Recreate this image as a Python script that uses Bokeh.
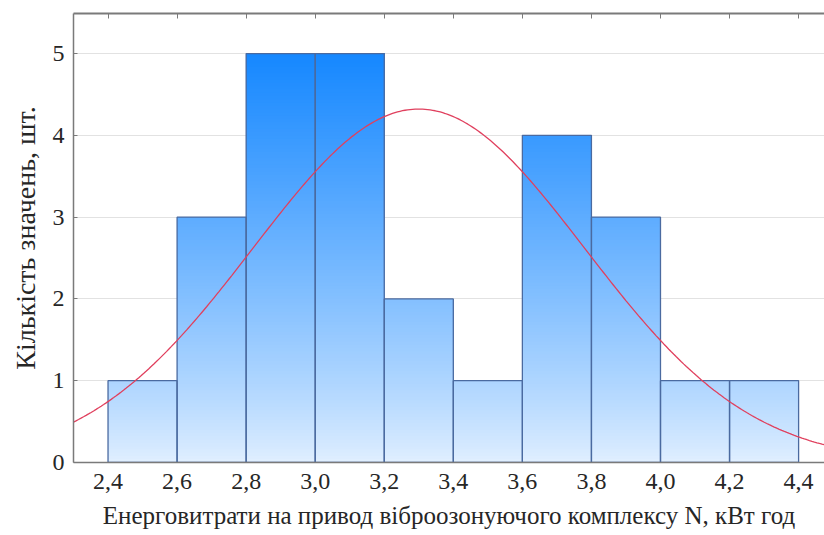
import numpy as np
from bokeh.plotting import figure
from bokeh.models import FixedTicker, LinearAxis, Range1d
from bokeh.embed import file_html
from bokeh.resources import INLINE

# ---- data ----
bin_left = [2.4, 2.6, 2.8, 3.0, 3.2, 3.4, 3.6, 3.8, 4.0, 4.2]
bin_right = [2.6, 2.8, 3.0, 3.2, 3.4, 3.6, 3.8, 4.0, 4.2, 4.4]
counts = [1, 3, 5, 5, 2, 1, 4, 3, 1, 1]
x_ticks = [2.4, 2.6, 2.8, 3.0, 3.2, 3.4, 3.6, 3.8, 4.0, 4.2, 4.4]
x_tick_labels = ["2,4", "2,6", "2,8", "3,0", "3,2", "3,4", "3,6", "3,8", "4,0", "4,2", "4,4"]
y_ticks = [0, 1, 2, 3, 4, 5]
fit_mean = 3.30
fit_sd = 0.48
bin_width = 0.2
x_title = "Енерговитрати на привод віброозонуючого комплексу N, кВт год"
y_title = "Кількість значень, шт."

FONT = "Liberation Serif"
X0, X1, Y0, Y1 = 2.3, 4.475, 0, 5.49

p = figure(width=824, height=535, output_backend="svg", toolbar_location=None,
           x_range=Range1d(X0, X1), y_range=Range1d(Y0, Y1),
           min_border_left=73, min_border_right=0, min_border_top=13, min_border_bottom=73,
           x_axis_label=x_title, y_axis_label=y_title)
p.outline_line_color = None
p.background_fill_color = "white"
p.border_fill_color = "white"

# grid
p.xgrid.grid_line_color = None
p.ygrid.ticker = FixedTicker(ticks=[1, 2, 3, 4, 5])
p.ygrid.grid_line_color = "#e2e2e2"
p.ygrid.grid_line_width = 1

# gradient bars (layered slices, colour depends on height)
top_c = np.array([22, 136, 255])
bot_c = np.array([226, 240, 255])
steps = 25
ymax_col = 5.0
L, R, B, T, C = [], [], [], [], []
for l, r, c in zip(bin_left, bin_right, counts):
    n = int(round(c * steps))
    for k in range(n):
        y0 = k / steps
        t = min(1.0, (y0 + 0.5 / steps) / ymax_col)
        t = t ** 0.85
        col = bot_c + (top_c - bot_c) * t
        L.append(l); R.append(r); B.append(y0); T.append(c)
        C.append("#%02x%02x%02x" % tuple(int(v) for v in col))
p.quad(left=L, right=R, bottom=B, top=T, fill_color=C, line_color=None)
p.quad(left=bin_left, right=bin_right, bottom=0, top=counts, fill_color=None,
       line_color="#4a6aa0", line_width=1.3)

# normal fit curve
xs = np.linspace(X0, X1, 300)
n_total = sum(counts)
ys = n_total * bin_width / (fit_sd * np.sqrt(2 * np.pi)) * np.exp(-0.5 * ((xs - fit_mean) / fit_sd) ** 2)
p.line(xs, ys, line_color="#e0405e", line_width=1.3)

# axes
xa = p.xaxis[0]
xa.ticker = FixedTicker(ticks=x_ticks)
xa.major_label_overrides = {t: s for t, s in zip(x_ticks, x_tick_labels)}
ya = p.yaxis[0]
ya.ticker = FixedTicker(ticks=y_ticks)
for ax in (xa, ya):
    ax.axis_line_color = "#7a7a7a"
    ax.axis_line_width = 1.5
    ax.major_tick_line_color = "#7a7a7a"
    ax.major_tick_in = 4
    ax.major_tick_out = 0
    ax.minor_tick_line_color = None
    ax.major_label_text_font = FONT
    ax.major_label_text_font_size = "24px"
    ax.major_label_text_color = "#262626"
    ax.axis_label_text_font = FONT
    ax.axis_label_text_font_style = "normal"
    ax.axis_label_text_color = "#262626"
xa.axis_label_text_font_size = "25px"
ya.axis_label_text_font_size = "28px"
xa.major_tick_in = 0
xa.major_label_standoff = 11
xa.axis_label_standoff = 10
ya.major_label_standoff = 9
ya.axis_label_standoff = 9

top = LinearAxis(ticker=FixedTicker(ticks=x_ticks))
top.major_label_overrides = {t: "" for t in x_ticks}
top.major_label_text_font_size = "0px"
top.major_label_standoff = 0
top.axis_line_color = "#7a7a7a"
top.axis_line_width = 2
top.major_tick_line_color = "#7a7a7a"
top.major_tick_in = 5
top.major_tick_out = 0
top.minor_tick_line_color = None
p.add_layout(top, "above")

open("out.html", "w").write(file_html(p, INLINE))
